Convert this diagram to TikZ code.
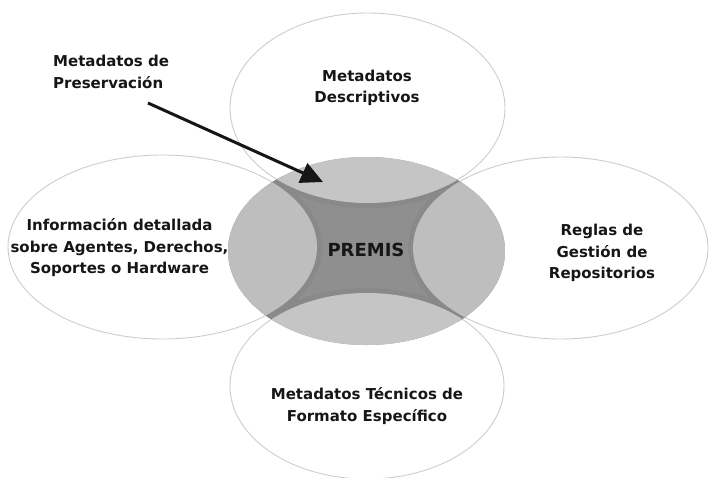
\documentclass[tikz,border=0pt]{standalone}
\usepackage{fontspec}
\setmainfont{DejaVu Sans}
\usetikzlibrary{arrows.meta}
\definecolor{rim}{HTML}{CDCDCD}
\definecolor{core}{HTML}{8F8F8F}
\definecolor{band}{HTML}{898989}
\definecolor{lobeA}{HTML}{C5C5C5}
\definecolor{lobeB}{HTML}{BEBEBE}
\definecolor{ink}{HTML}{161616}
\tikzset{
  outer/.style={draw=rim, line width=0.9pt},
  lbl/.style={font=\bfseries\fontsize{15}{21.5}\selectfont, text=ink, align=center, inner sep=0pt},
}
\begin{document}
\begin{tikzpicture}[x=1pt,y=-1pt]
\useasboundingbox (0,0) rectangle (711,477);
\fill[white] (0,0) rectangle (711,477);
\coordinate (cT) at (367.5,108);
\coordinate (cB) at (367,386);
\coordinate (cL) at (162.5,247);
\coordinate (cR) at (560.5,248);
\coordinate (cC) at (366.5,251);
% outer ellipses
\draw[outer] (cT) ellipse [x radius=137.5pt, y radius=95pt];
\draw[outer] (cB) ellipse [x radius=137pt, y radius=93pt];
\draw[outer] (cL) ellipse [x radius=154.5pt, y radius=92pt];
\draw[outer] (cR) ellipse [x radius=147.5pt, y radius=91pt];
% central ellipse
\fill[core] (cC) ellipse [x radius=138.5pt, y radius=94pt];
\begin{scope}
  \clip (cC) ellipse [x radius=138.5pt, y radius=94pt];
  \draw[band, line width=10pt] (cT) ellipse [x radius=137.5pt, y radius=95pt];
  \draw[band, line width=10pt] (cB) ellipse [x radius=137pt, y radius=93pt];
  \draw[band, line width=10pt] (cL) ellipse [x radius=154.5pt, y radius=92pt];
  \draw[band, line width=10pt] (cR) ellipse [x radius=147.5pt, y radius=91pt];
  \fill[lobeA] (cT) ellipse [x radius=137.5pt, y radius=95pt];
  \fill[lobeA] (cB) ellipse [x radius=137pt, y radius=93pt];
  \fill[lobeB] (cL) ellipse [x radius=154.5pt, y radius=92pt];
  \fill[lobeB] (cR) ellipse [x radius=147.5pt, y radius=91pt];
\end{scope}
% labels
\node[lbl, align=left, anchor=west] (pres) at (53,72) {Metadatos de\\Preservación};
\node[lbl] (desc) at (367,88) {Metadatos\\Descriptivos};
\node[lbl] (info) at (119.5,248) {Información detallada\\sobre Agentes, Derechos,\\Soportes o Hardware};
\node[lbl, font=\bfseries\fontsize{18}{22}\selectfont] (premis) at (366,250) {PREMIS};
\node[lbl] (regl) at (602,253) {Reglas de\\Gestión de\\Repositorios};
\node[lbl] (tecn) at (367,406) {Metadatos Técnicos de\\Formato Específico};
% arrow
\coordinate (aS) at (148,103);
\coordinate (aE) at (323,182);
\draw[ink, line width=3pt, -{Triangle[length=22pt,width=21pt]}] (aS) -- (aE);
\end{tikzpicture}
\end{document}
